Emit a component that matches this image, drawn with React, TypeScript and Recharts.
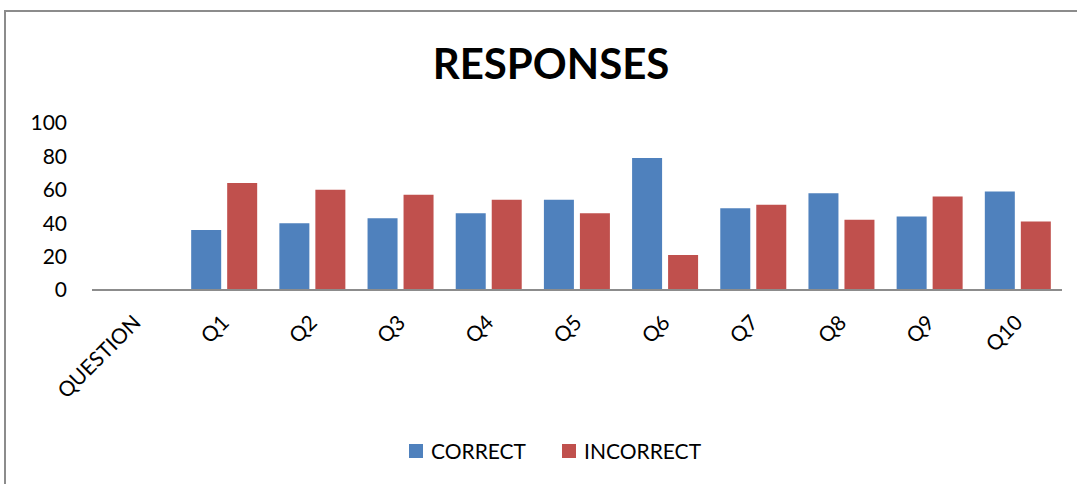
import { BarChart, Bar, XAxis, YAxis, Legend } from 'recharts';

const categories = ['QUESTION', 'Q1', 'Q2', 'Q3', 'Q4', 'Q5', 'Q6', 'Q7', 'Q8', 'Q9', 'Q10'];
const correct = [null, 36, 40, 43, 46, 54, 79, 49, 58, 44, 59];
const incorrect = [null, 64, 60, 57, 54, 46, 21, 51, 42, 56, 41];
const yTicks = [0, 20, 40, 60, 80, 100];

const data = categories.map((name, i) => ({
  name,
  correct: correct[i],
  incorrect: incorrect[i],
}));

const FONT = 'Lato, "Open Sans", sans-serif';
const BLUE = '#4F81BD';
const RED = '#C0504D';

function XTick(props: any) {
  const { x, y, payload } = props;
  const ax = x + 6;
  const ay = y + 34;
  return (
    <text
      x={ax}
      y={ay}
      transform={`rotate(-45, ${ax}, ${ay})`}
      textAnchor="end"
      fontFamily={FONT}
      fontSize={21}
      fill="#000"
    >
      {payload.value}
    </text>
  );
}

function LegendContent() {
  const items = [
    { label: 'CORRECT', color: BLUE },
    { label: 'INCORRECT', color: RED },
  ];
  return (
    <div style={{ display: 'flex', justifyContent: 'center', fontFamily: FONT, fontSize: 21 }}>
      {items.map((it, i) => (
        <div key={it.label} style={{ display: 'flex', alignItems: 'center', marginLeft: i ? 36 : 0 }}>
          <span style={{ width: 14, height: 14, background: it.color, marginRight: 8, display: 'inline-block' }} />
          <span>{it.label}</span>
        </div>
      ))}
    </div>
  );
}

export default function App() {
  return (
    <div style={{ position: 'relative', width: 1077, height: 484, overflow: 'hidden', background: '#fff' }}>
      <style>{'body{margin:0}'}</style>
      <div
        style={{
          position: 'absolute',
          left: 4,
          top: 10,
          width: 1200,
          height: 600,
          border: '2px solid #8c8c8c',
        }}
      />
      <div
        style={{
          position: 'absolute',
          left: 0,
          width: 1102,
          top: 38,
          textAlign: 'center',
          fontFamily: FONT,
          fontWeight: 700,
          fontSize: 42,
          color: '#000',
        }}
      >
        RESPONSES
      </div>
      <div style={{ position: 'absolute', left: 0, top: 0 }}>
        <BarChart
          width={1077}
          height={484}
          data={data}
          margin={{ top: 123, right: 15, bottom: 94, left: 0 }}
          barSize={30}
          barGap={6}
        >
          <XAxis
            dataKey="name"
            interval={0}
            height={100}
            tickLine={false}
            tickSize={0}
            tickMargin={0}
            stroke="#8c8c8c"
            strokeWidth={2}
            tick={<XTick />}
          />
          <YAxis
            width={92}
            domain={[0, 100]}
            ticks={yTicks}
            axisLine={false}
            tickLine={false}
            tickSize={0}
            tickMargin={25}
            tick={{ fill: '#000', fontSize: 21, fontFamily: FONT }}
          />
          <Legend
            verticalAlign="middle"
            wrapperStyle={{ top: 438, left: 0, width: 1110 }}
            content={<LegendContent />}
          />
          <Bar dataKey="correct" fill={BLUE} isAnimationActive={false} />
          <Bar dataKey="incorrect" fill={RED} isAnimationActive={false} />
        </BarChart>
      </div>
    </div>
  );
}
